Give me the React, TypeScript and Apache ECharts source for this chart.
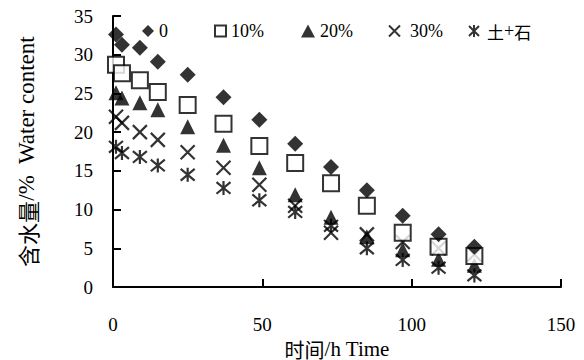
import React, { useEffect, useRef } from "react";
import * as echarts from "echarts";

const times = [1, 3, 9, 15, 25, 37, 49, 61, 73, 85, 97, 109, 121];
const seriesNames = ["0", "10%", "20%", "30%", "土+石"];
const values0 = [32.6, 31.3, 30.9, 29.1, 27.4, 24.5, 21.6, 18.5, 15.5, 12.5, 9.2, 6.8, 5.2];
const values10 = [28.7, 27.6, 26.7, 25.2, 23.5, 21.1, 18.2, 16.0, 13.4, 10.5, 7.0, 5.2, 4.0];
const values20 = [25.1, 24.4, 23.8, 22.9, 20.7, 18.3, 15.4, 11.9, 9.0, 6.5, 4.8, 3.6, 2.8];
const values30 = [22.0, 21.2, 20.0, 19.0, 17.4, 15.4, 13.2, 10.5, 7.0, 6.8, 5.8, 5.0, 4.2];
const valuesSoil = [18.1, 17.3, 16.8, 15.7, 14.5, 12.8, 11.2, 9.7, 7.9, 5.0, 3.5, 2.5, 1.5];
const xTicks = [0, 50, 100, 150];
const yTicks = [0, 5, 10, 15, 20, 25, 30, 35];

const SERIF = "Liberation Serif";
const CJK = "Noto Sans CJK SC";
const CROSS = "path://M0,0L10,10M10,0L0,10";
const STAR = "path://M0,0L10,10M10,0L0,10M5,-1L5,11";

const isCJK = (ch: string) => /[\u3000-\u9fff\uff00-\uffef]/.test(ch);
function toRich(text: string) {
  let out = "";
  let cur = "";
  let curType = "";
  for (const ch of text) {
    const t = isCJK(ch) ? "c" : "s";
    if (t !== curType && cur) {
      out += `{${curType}|${cur}}`;
      cur = "";
    }
    curType = t;
    cur += ch;
  }
  if (cur) out += `{${curType}|${cur}}`;
  return out;
}

export default function App() {
  const ref = useRef<HTMLDivElement>(null);
  useEffect(() => {
    if (!ref.current) return;
    const chart = echarts.init(ref.current, null, { renderer: "svg" });
    const all = [values0, values10, values20, values30, valuesSoil];
    const symbols = ["diamond", "rect", "triangle", CROSS, STAR];
    const sizes: any[] = [[16, 16], [16, 16], [15, 15], [14, 14], [14, 14]];
    const styles: any[] = [
      { color: "#000" },
      { color: "#fff", borderColor: "#000", borderWidth: 2 },
      { color: "#000" },
      { color: "transparent", borderColor: "#000", borderWidth: 2.2 },
      { color: "transparent", borderColor: "#000", borderWidth: 2.2 },
    ];
    const legendPos = [137, 209, 296, 383, 463];
    const legendPad = [0, 0, 0, 5, 2];
    const legendSizes = [[12, 12], [11, 11], [14, 13], [11, 11], [12, 12]];
    const rich = (size: number) => ({
      s: { fontFamily: SERIF, fontSize: size, lineHeight: size, color: "#000", fontWeight: "normal" },
      c: { fontFamily: CJK, fontSize: size - 1, lineHeight: size, color: "#000", fontWeight: "normal" },
    });
    chart.setOption({
      animation: false,
      backgroundColor: "#fff",
      grid: { left: 113, right: 23, top: 16, bottom: 73, containLabel: false, outerBoundsMode: "none" },
      legend: seriesNames.map((n, i) => ({
        data: [n],
        left: legendPos[i],
        top: 17,
        itemWidth: legendSizes[i][0],
        itemHeight: legendSizes[i][1],
        itemGap: 0,
        formatter: (name: string) => toRich(name),
        textStyle: {
          fontFamily: SERIF,
          fontSize: 18,
          color: "#000",
          fontWeight: "normal",
          padding: [0, 0, 0, legendPad[i]],
          rich: rich(18),
        },
      })),
      xAxis: {
        type: "value",
        min: 0,
        max: 150,
        interval: 50,
        name: toRich("时间/h Time"),
        nameLocation: "middle",
        nameGap: 46,
        nameTextStyle: { fontFamily: SERIF, fontSize: 21, color: "#000", rich: rich(21) },
        axisLine: { show: true, lineStyle: { color: "#000", width: 2 } },
        axisTick: { show: true, inside: true, length: 8, lineStyle: { color: "#000", width: 2 } },
        axisLabel: {
          margin: 28,
          fontFamily: SERIF,
          fontSize: 19,
          color: "#000",
          formatter: (v: number) => (xTicks.includes(v) ? String(v) : ""),
        },
        splitLine: { show: false },
      },
      yAxis: {
        type: "value",
        min: 0,
        max: 35,
        interval: 5,
        name: toRich("含水量/%  Water content"),
        nameLocation: "middle",
        nameGap: 75,
        nameTextStyle: { fontFamily: SERIF, fontSize: 23, color: "#000", rich: rich(23) },
        axisLine: { show: true, lineStyle: { color: "#000", width: 2 } },
        axisTick: { show: true, inside: true, length: 8, lineStyle: { color: "#000", width: 2 } },
        axisLabel: {
          margin: 20,
          fontFamily: SERIF,
          fontSize: 19,
          color: "#000",
          formatter: (v: number) => (yTicks.includes(v) ? String(v) : ""),
        },
        splitLine: { show: false },
      },
      series: seriesNames.map((n, i) => ({
        name: n,
        type: "scatter",
        symbol: symbols[i],
        symbolSize: sizes[i],
        itemStyle: styles[i],
        data: times.map((t, j) => [t, all[i][j]]),
        z: 10 - i,
      })),
    });
    return () => chart.dispose();
  }, []);
  return <div ref={ref} style={{ width: 584, height: 360, position: "absolute", left: 0, top: 0 }} />;
}
